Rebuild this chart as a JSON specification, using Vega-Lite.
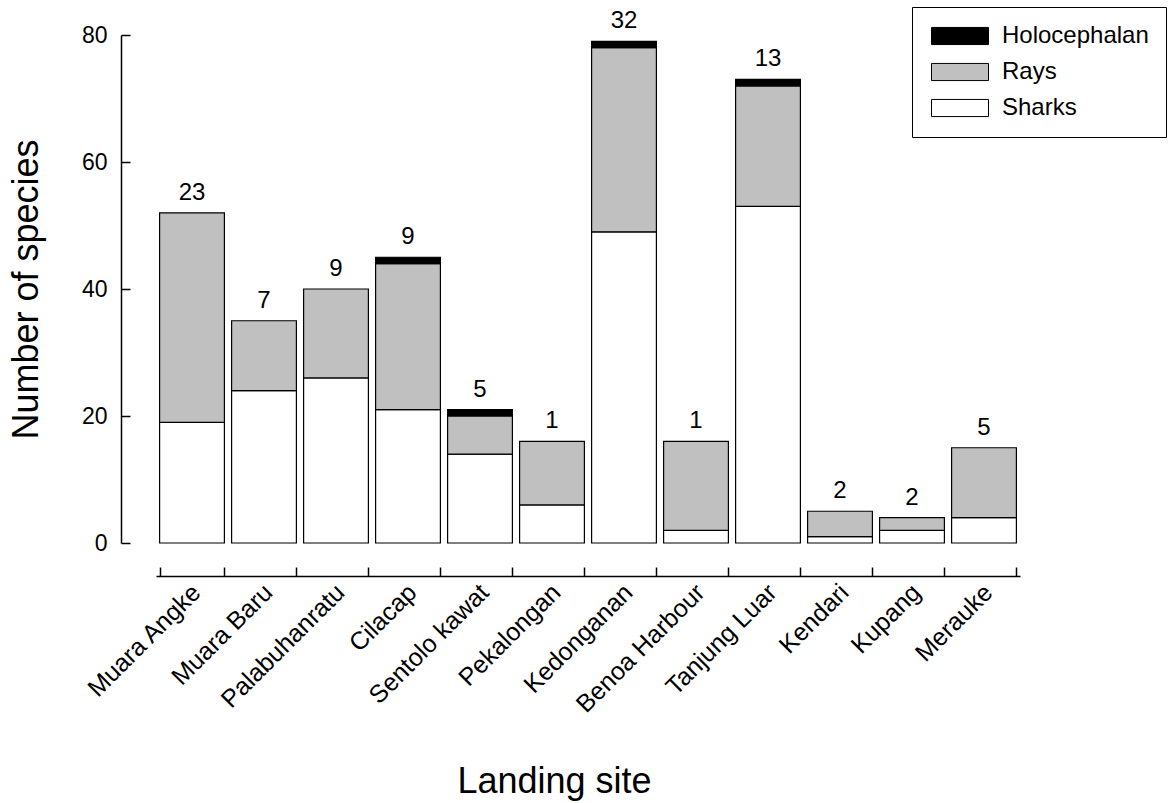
{
  "$schema": "https://vega.github.io/schema/vega-lite/v6.json",
  "autosize": "none",
  "width": 864,
  "height": 508,
  "padding": {"left": 156, "top": 35, "right": 151, "bottom": 260},
  "background": "white",
  "config": {
    "font": "Liberation Sans",
    "view": {"stroke": null},
    "axis": {"labelFont": "Liberation Sans", "titleFont": "Liberation Sans", "labelColor": "black", "titleColor": "black", "domainColor": "black", "tickColor": "black", "titleFontWeight": "normal"},
    "legend": {"labelFont": "Liberation Sans"}
  },
  "datasets": {
    "counts": [
      {"site": "Muara Angke", "group": "Sharks", "count": 19},
      {"site": "Muara Angke", "group": "Rays", "count": 33},
      {"site": "Muara Angke", "group": "Holocephalan", "count": 0},
      {"site": "Muara Baru", "group": "Sharks", "count": 24},
      {"site": "Muara Baru", "group": "Rays", "count": 11},
      {"site": "Muara Baru", "group": "Holocephalan", "count": 0},
      {"site": "Palabuhanratu", "group": "Sharks", "count": 26},
      {"site": "Palabuhanratu", "group": "Rays", "count": 14},
      {"site": "Palabuhanratu", "group": "Holocephalan", "count": 0},
      {"site": "Cilacap", "group": "Sharks", "count": 21},
      {"site": "Cilacap", "group": "Rays", "count": 23},
      {"site": "Cilacap", "group": "Holocephalan", "count": 1},
      {"site": "Sentolo kawat", "group": "Sharks", "count": 14},
      {"site": "Sentolo kawat", "group": "Rays", "count": 6},
      {"site": "Sentolo kawat", "group": "Holocephalan", "count": 1},
      {"site": "Pekalongan", "group": "Sharks", "count": 6},
      {"site": "Pekalongan", "group": "Rays", "count": 10},
      {"site": "Pekalongan", "group": "Holocephalan", "count": 0},
      {"site": "Kedonganan", "group": "Sharks", "count": 49},
      {"site": "Kedonganan", "group": "Rays", "count": 29},
      {"site": "Kedonganan", "group": "Holocephalan", "count": 1},
      {"site": "Benoa Harbour", "group": "Sharks", "count": 2},
      {"site": "Benoa Harbour", "group": "Rays", "count": 14},
      {"site": "Benoa Harbour", "group": "Holocephalan", "count": 0},
      {"site": "Tanjung Luar", "group": "Sharks", "count": 53},
      {"site": "Tanjung Luar", "group": "Rays", "count": 19},
      {"site": "Tanjung Luar", "group": "Holocephalan", "count": 1},
      {"site": "Kendari", "group": "Sharks", "count": 1},
      {"site": "Kendari", "group": "Rays", "count": 4},
      {"site": "Kendari", "group": "Holocephalan", "count": 0},
      {"site": "Kupang", "group": "Sharks", "count": 2},
      {"site": "Kupang", "group": "Rays", "count": 2},
      {"site": "Kupang", "group": "Holocephalan", "count": 0},
      {"site": "Merauke", "group": "Sharks", "count": 4},
      {"site": "Merauke", "group": "Rays", "count": 11},
      {"site": "Merauke", "group": "Holocephalan", "count": 0}
    ],
    "labels": [
      {"site": "Muara Angke", "label": "23"},
      {"site": "Muara Baru", "label": "7"},
      {"site": "Palabuhanratu", "label": "9"},
      {"site": "Cilacap", "label": "9"},
      {"site": "Sentolo kawat", "label": "5"},
      {"site": "Pekalongan", "label": "1"},
      {"site": "Kedonganan", "label": "32"},
      {"site": "Benoa Harbour", "label": "1"},
      {"site": "Tanjung Luar", "label": "13"},
      {"site": "Kendari", "label": "2"},
      {"site": "Kupang", "label": "2"},
      {"site": "Merauke", "label": "5"}
    ]
  },
  "layer": [
    {
      "data": {"name": "counts"},
      "transform": [{"filter": "datum.count > 0"}],
      "mark": {"type": "bar", "stroke": "black", "strokeWidth": 1.2, "opacity": 1},
      "encoding": {
        "x": {
          "field": "site", "type": "nominal", "sort": null,
          "scale": {"paddingInner": 0.1, "paddingOuter": 0.05},
          "axis": {
            "title": "Landing site", "titleFontSize": 36, "titleX": 398, "titleY": 216, "titleBaseline": "alphabetic",
            "offset": 33, "tickBand": "extent", "tickSize": -9, "tickWidth": 1.5, "domainWidth": 1.5,
            "labelAngle": -45, "labelFontSize": 25, "labelPadding": 21, "labelOffset": 4, "labelAlign": "right", "labelBaseline": "middle"
          }
        },
        "y": {
          "field": "count", "type": "quantitative", "stack": "zero",
          "scale": {"domain": [0, 80]},
          "axis": {
            "title": "Number of species", "titleFontSize": 36, "titleX": -84, "titleY": 254, "titleAlign": "center", "titleBaseline": "alphabetic", "titleAngle": -90,
            "values": [0, 20, 40, 60, 80], "grid": false, "offset": 35, "tickSize": -9, "tickWidth": 1.5, "domainWidth": 1.5,
            "labelFontSize": 23, "labelPadding": 23
          }
        },
        "color": {
          "field": "group", "type": "nominal",
          "scale": {"domain": ["Holocephalan", "Rays", "Sharks"], "range": ["#000000", "#c0c0c0", "#ffffff"]},
          "legend": {
            "title": null, "orient": "none", "legendX": 756, "legendY": -28,
            "strokeColor": "black", "padding": 17, "fillColor": "white",
            "symbolType": "M-1,-0.9H5V0.9H-1Z", "symbolSize": 361, "symbolStrokeColor": "black", "symbolStrokeWidth": 1, "symbolOpacity": 1,
            "labelFontSize": 24, "labelColor": "black", "labelOffset": 49, "rowPadding": 12
          }
        },
        "order": {"field": "group", "sort": "descending"}
      }
    },
    {
      "data": {"name": "counts"},
      "transform": [
        {"aggregate": [{"op": "sum", "field": "count", "as": "total"}], "groupby": ["site"]},
        {"lookup": "site", "from": {"data": {"name": "labels"}, "key": "site", "fields": ["label"]}}
      ],
      "mark": {"type": "text", "fontSize": 24, "baseline": "alphabetic", "dy": -13, "color": "black"},
      "encoding": {
        "x": {"field": "site", "type": "nominal", "sort": null},
        "y": {"field": "total", "type": "quantitative"},
        "text": {"field": "label"}
      }
    }
  ]
}
